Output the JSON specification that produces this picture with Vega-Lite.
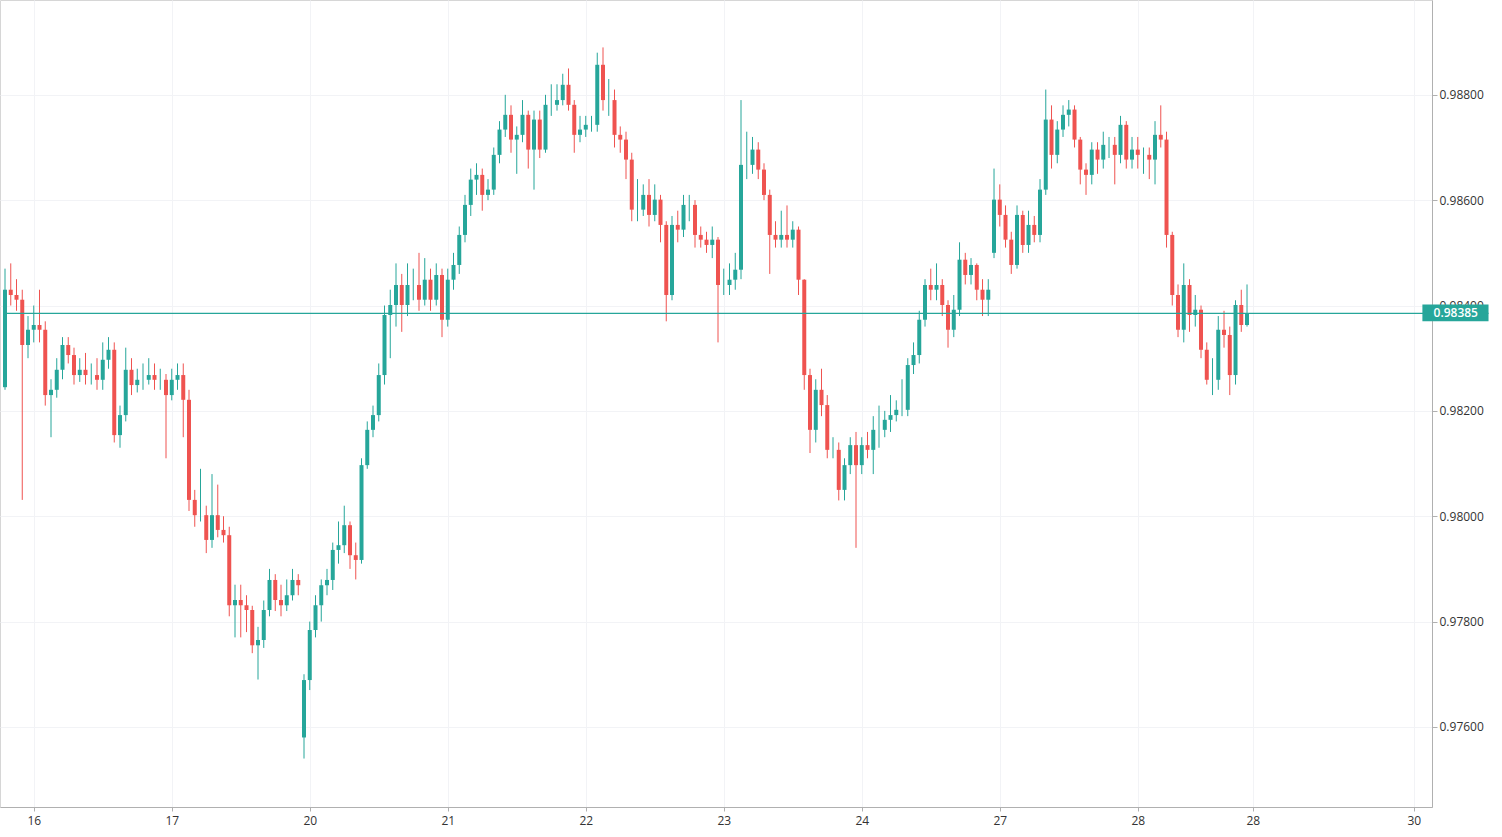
{
  "$schema": "https://vega.github.io/schema/vega-lite/v6.json",
  "width": 1432,
  "height": 807,
  "autosize": "none",
  "padding": {"left": 0, "top": 0, "right": 70, "bottom": 30},
  "background": "white",
  "config": {
    "view": {"stroke": "#d6d6d6"},
    "font": "Open Sans",
    "axis": {"labelFont": "Open Sans", "labelFontSize": 12, "labelColor": "#333", "gridColor": "#f2f3f6", "domainColor": "#b0b0b0", "tickColor": "#b0b0b0"}
  },
  "datasets": {
    "candles": [
      {"t":-5,"o":0.98245,"h":0.98470,"l":0.98240,"c":0.98430},
      {"t":-4,"o":0.98430,"h":0.98480,"l":0.98400,"c":0.98420},
      {"t":-3,"o":0.98420,"h":0.98450,"l":0.98390,"c":0.98411},
      {"t":-2,"o":0.98411,"h":0.98430,"l":0.98031,"c":0.98325},
      {"t":-1,"o":0.98325,"h":0.98380,"l":0.98300,"c":0.98354},
      {"t":0,"o":0.98354,"h":0.98400,"l":0.98330,"c":0.98363},
      {"t":1,"o":0.98363,"h":0.98430,"l":0.98330,"c":0.98354},
      {"t":2,"o":0.98354,"h":0.98370,"l":0.98210,"c":0.98230},
      {"t":3,"o":0.98230,"h":0.98260,"l":0.98150,"c":0.98240},
      {"t":4,"o":0.98240,"h":0.98300,"l":0.98225,"c":0.98278},
      {"t":5,"o":0.98278,"h":0.98340,"l":0.98260,"c":0.98325},
      {"t":6,"o":0.98325,"h":0.98340,"l":0.98290,"c":0.98306},
      {"t":7,"o":0.98306,"h":0.98320,"l":0.98250,"c":0.98268},
      {"t":8,"o":0.98268,"h":0.98300,"l":0.98255,"c":0.98278},
      {"t":9,"o":0.98278,"h":0.98310,"l":0.98250,"c":0.98268},
      {"t":10,"o":0.98268,"h":0.98290,"l":0.98250,"c":0.98268},
      {"t":11,"o":0.98268,"h":0.98300,"l":0.98240,"c":0.98259},
      {"t":12,"o":0.98259,"h":0.98330,"l":0.98240,"c":0.98297},
      {"t":13,"o":0.98297,"h":0.98340,"l":0.98280,"c":0.98316},
      {"t":14,"o":0.98316,"h":0.98330,"l":0.98140,"c":0.98154},
      {"t":15,"o":0.98154,"h":0.98210,"l":0.98130,"c":0.98192},
      {"t":16,"o":0.98192,"h":0.98320,"l":0.98180,"c":0.98278},
      {"t":17,"o":0.98278,"h":0.98300,"l":0.98230,"c":0.98249},
      {"t":18,"o":0.98249,"h":0.98280,"l":0.98235,"c":0.98259},
      {"t":19,"o":0.98259,"h":0.98290,"l":0.98240,"c":0.98259},
      {"t":20,"o":0.98259,"h":0.98300,"l":0.98250,"c":0.98268},
      {"t":21,"o":0.98268,"h":0.98290,"l":0.98240,"c":0.98259},
      {"t":22,"o":0.98259,"h":0.98280,"l":0.98240,"c":0.98259},
      {"t":23,"o":0.98259,"h":0.98270,"l":0.98110,"c":0.98230},
      {"t":24,"o":0.98230,"h":0.98280,"l":0.98220,"c":0.98259},
      {"t":25,"o":0.98259,"h":0.98290,"l":0.98240,"c":0.98268},
      {"t":26,"o":0.98268,"h":0.98290,"l":0.98150,"c":0.98221},
      {"t":27,"o":0.98221,"h":0.98240,"l":0.98010,"c":0.98031},
      {"t":28,"o":0.98031,"h":0.98050,"l":0.97980,"c":0.98002},
      {"t":29,"o":0.98002,"h":0.98090,"l":0.97990,"c":0.98002},
      {"t":30,"o":0.98002,"h":0.98020,"l":0.97930,"c":0.97955},
      {"t":31,"o":0.97955,"h":0.98080,"l":0.97940,"c":0.98002},
      {"t":32,"o":0.98002,"h":0.98060,"l":0.97960,"c":0.97974},
      {"t":33,"o":0.97974,"h":0.98000,"l":0.97950,"c":0.97964},
      {"t":34,"o":0.97964,"h":0.97980,"l":0.97810,"c":0.97831},
      {"t":35,"o":0.97831,"h":0.97870,"l":0.97770,"c":0.97841},
      {"t":36,"o":0.97841,"h":0.97870,"l":0.97770,"c":0.97831},
      {"t":37,"o":0.97831,"h":0.97850,"l":0.97780,"c":0.97822},
      {"t":38,"o":0.97822,"h":0.97830,"l":0.97740,"c":0.97755},
      {"t":39,"o":0.97755,"h":0.97790,"l":0.97690,"c":0.97765},
      {"t":40,"o":0.97765,"h":0.97840,"l":0.97750,"c":0.97822},
      {"t":41,"o":0.97822,"h":0.97900,"l":0.97810,"c":0.97879},
      {"t":42,"o":0.97879,"h":0.97890,"l":0.97820,"c":0.97841},
      {"t":43,"o":0.97841,"h":0.97870,"l":0.97810,"c":0.97831},
      {"t":44,"o":0.97831,"h":0.97880,"l":0.97820,"c":0.97850},
      {"t":45,"o":0.97850,"h":0.97900,"l":0.97840,"c":0.97879},
      {"t":46,"o":0.97879,"h":0.97890,"l":0.97850,"c":0.97869},
      {"t":47,"o":0.97580,"h":0.97700,"l":0.97540,"c":0.97689},
      {"t":48,"o":0.97689,"h":0.97800,"l":0.97670,"c":0.97784},
      {"t":49,"o":0.97784,"h":0.97850,"l":0.97770,"c":0.97831},
      {"t":50,"o":0.97831,"h":0.97880,"l":0.97800,"c":0.97869},
      {"t":51,"o":0.97869,"h":0.97900,"l":0.97850,"c":0.97879},
      {"t":52,"o":0.97879,"h":0.97950,"l":0.97860,"c":0.97936},
      {"t":53,"o":0.97936,"h":0.97990,"l":0.97910,"c":0.97945},
      {"t":54,"o":0.97945,"h":0.98020,"l":0.97930,"c":0.97983},
      {"t":55,"o":0.97983,"h":0.97990,"l":0.97900,"c":0.97926},
      {"t":56,"o":0.97926,"h":0.97950,"l":0.97880,"c":0.97917},
      {"t":57,"o":0.97917,"h":0.98110,"l":0.97910,"c":0.98097},
      {"t":58,"o":0.98097,"h":0.98180,"l":0.98090,"c":0.98164},
      {"t":59,"o":0.98164,"h":0.98210,"l":0.98150,"c":0.98192},
      {"t":60,"o":0.98192,"h":0.98290,"l":0.98180,"c":0.98268},
      {"t":61,"o":0.98268,"h":0.98400,"l":0.98250,"c":0.98382},
      {"t":62,"o":0.98382,"h":0.98430,"l":0.98300,"c":0.98401},
      {"t":63,"o":0.98401,"h":0.98480,"l":0.98360,"c":0.98439},
      {"t":64,"o":0.98439,"h":0.98460,"l":0.98350,"c":0.98401},
      {"t":65,"o":0.98401,"h":0.98480,"l":0.98380,"c":0.98439},
      {"t":66,"o":0.98439,"h":0.98470,"l":0.98410,"c":0.98439},
      {"t":67,"o":0.98439,"h":0.98500,"l":0.98390,"c":0.98411},
      {"t":68,"o":0.98411,"h":0.98490,"l":0.98400,"c":0.98449},
      {"t":69,"o":0.98449,"h":0.98470,"l":0.98390,"c":0.98411},
      {"t":70,"o":0.98411,"h":0.98480,"l":0.98400,"c":0.98458},
      {"t":71,"o":0.98458,"h":0.98470,"l":0.98340,"c":0.98373},
      {"t":72,"o":0.98373,"h":0.98470,"l":0.98360,"c":0.98449},
      {"t":73,"o":0.98449,"h":0.98500,"l":0.98430,"c":0.98477},
      {"t":74,"o":0.98477,"h":0.98550,"l":0.98460,"c":0.98534},
      {"t":75,"o":0.98534,"h":0.98610,"l":0.98520,"c":0.98591},
      {"t":76,"o":0.98591,"h":0.98660,"l":0.98570,"c":0.98639},
      {"t":77,"o":0.98639,"h":0.98670,"l":0.98610,"c":0.98648},
      {"t":78,"o":0.98648,"h":0.98660,"l":0.98580,"c":0.98610},
      {"t":79,"o":0.98610,"h":0.98640,"l":0.98600,"c":0.98620},
      {"t":80,"o":0.98620,"h":0.98700,"l":0.98610,"c":0.98686},
      {"t":81,"o":0.98686,"h":0.98750,"l":0.98670,"c":0.98734},
      {"t":82,"o":0.98734,"h":0.98800,"l":0.98720,"c":0.98762},
      {"t":83,"o":0.98762,"h":0.98780,"l":0.98690,"c":0.98715},
      {"t":84,"o":0.98715,"h":0.98740,"l":0.98650,"c":0.98724},
      {"t":85,"o":0.98724,"h":0.98790,"l":0.98710,"c":0.98762},
      {"t":86,"o":0.98762,"h":0.98770,"l":0.98660,"c":0.98696},
      {"t":87,"o":0.98696,"h":0.98770,"l":0.98620,"c":0.98753},
      {"t":88,"o":0.98753,"h":0.98770,"l":0.98680,"c":0.98696},
      {"t":89,"o":0.98696,"h":0.98800,"l":0.98690,"c":0.98781},
      {"t":90,"o":0.98781,"h":0.98820,"l":0.98760,"c":0.98781},
      {"t":91,"o":0.98781,"h":0.98820,"l":0.98770,"c":0.98790},
      {"t":92,"o":0.98790,"h":0.98840,"l":0.98780,"c":0.98819},
      {"t":93,"o":0.98819,"h":0.98850,"l":0.98770,"c":0.98781},
      {"t":94,"o":0.98781,"h":0.98790,"l":0.98690,"c":0.98724},
      {"t":95,"o":0.98724,"h":0.98760,"l":0.98710,"c":0.98734},
      {"t":96,"o":0.98734,"h":0.98760,"l":0.98720,"c":0.98743},
      {"t":97,"o":0.98743,"h":0.98760,"l":0.98730,"c":0.98743},
      {"t":98,"o":0.98743,"h":0.98880,"l":0.98730,"c":0.98857},
      {"t":99,"o":0.98857,"h":0.98890,"l":0.98770,"c":0.98790},
      {"t":100,"o":0.98790,"h":0.98830,"l":0.98760,"c":0.98790},
      {"t":101,"o":0.98790,"h":0.98810,"l":0.98700,"c":0.98724},
      {"t":102,"o":0.98724,"h":0.98740,"l":0.98690,"c":0.98715},
      {"t":103,"o":0.98715,"h":0.98730,"l":0.98640,"c":0.98677},
      {"t":104,"o":0.98677,"h":0.98690,"l":0.98560,"c":0.98582},
      {"t":105,"o":0.98582,"h":0.98640,"l":0.98560,"c":0.98582},
      {"t":106,"o":0.98582,"h":0.98630,"l":0.98570,"c":0.98610},
      {"t":107,"o":0.98610,"h":0.98640,"l":0.98550,"c":0.98572},
      {"t":108,"o":0.98572,"h":0.98630,"l":0.98560,"c":0.98601},
      {"t":109,"o":0.98601,"h":0.98610,"l":0.98520,"c":0.98553},
      {"t":110,"o":0.98553,"h":0.98560,"l":0.98370,"c":0.98420},
      {"t":111,"o":0.98420,"h":0.98570,"l":0.98410,"c":0.98553},
      {"t":112,"o":0.98553,"h":0.98580,"l":0.98520,"c":0.98544},
      {"t":113,"o":0.98544,"h":0.98610,"l":0.98530,"c":0.98591},
      {"t":114,"o":0.98591,"h":0.98610,"l":0.98560,"c":0.98591},
      {"t":115,"o":0.98591,"h":0.98600,"l":0.98510,"c":0.98534},
      {"t":116,"o":0.98534,"h":0.98550,"l":0.98510,"c":0.98525},
      {"t":117,"o":0.98525,"h":0.98540,"l":0.98500,"c":0.98515},
      {"t":118,"o":0.98515,"h":0.98550,"l":0.98490,"c":0.98525},
      {"t":119,"o":0.98525,"h":0.98530,"l":0.98330,"c":0.98439},
      {"t":120,"o":0.98439,"h":0.98470,"l":0.98420,"c":0.98439},
      {"t":121,"o":0.98439,"h":0.98480,"l":0.98420,"c":0.98449},
      {"t":122,"o":0.98449,"h":0.98500,"l":0.98430,"c":0.98468},
      {"t":123,"o":0.98468,"h":0.98790,"l":0.98450,"c":0.98667},
      {"t":124,"o":0.98667,"h":0.98730,"l":0.98640,"c":0.98667},
      {"t":125,"o":0.98667,"h":0.98720,"l":0.98650,"c":0.98696},
      {"t":126,"o":0.98696,"h":0.98710,"l":0.98640,"c":0.98658},
      {"t":127,"o":0.98658,"h":0.98670,"l":0.98600,"c":0.98610},
      {"t":128,"o":0.98610,"h":0.98620,"l":0.98460,"c":0.98534},
      {"t":129,"o":0.98534,"h":0.98560,"l":0.98510,"c":0.98525},
      {"t":130,"o":0.98525,"h":0.98580,"l":0.98510,"c":0.98534},
      {"t":131,"o":0.98534,"h":0.98590,"l":0.98510,"c":0.98525},
      {"t":132,"o":0.98525,"h":0.98560,"l":0.98510,"c":0.98544},
      {"t":133,"o":0.98544,"h":0.98550,"l":0.98420,"c":0.98449},
      {"t":134,"o":0.98449,"h":0.98450,"l":0.98240,"c":0.98268},
      {"t":135,"o":0.98268,"h":0.98280,"l":0.98120,"c":0.98164},
      {"t":136,"o":0.98164,"h":0.98260,"l":0.98140,"c":0.98240},
      {"t":137,"o":0.98240,"h":0.98280,"l":0.98190,"c":0.98211},
      {"t":138,"o":0.98211,"h":0.98230,"l":0.98110,"c":0.98126},
      {"t":139,"o":0.98126,"h":0.98150,"l":0.98110,"c":0.98126},
      {"t":140,"o":0.98126,"h":0.98140,"l":0.98030,"c":0.98050},
      {"t":141,"o":0.98050,"h":0.98110,"l":0.98030,"c":0.98097},
      {"t":142,"o":0.98097,"h":0.98150,"l":0.98080,"c":0.98135},
      {"t":143,"o":0.98135,"h":0.98160,"l":0.97940,"c":0.98097},
      {"t":144,"o":0.98097,"h":0.98150,"l":0.98080,"c":0.98135},
      {"t":145,"o":0.98135,"h":0.98160,"l":0.98110,"c":0.98126},
      {"t":146,"o":0.98126,"h":0.98190,"l":0.98080,"c":0.98164},
      {"t":147,"o":0.98164,"h":0.98210,"l":0.98130,"c":0.98164},
      {"t":148,"o":0.98164,"h":0.98200,"l":0.98150,"c":0.98183},
      {"t":149,"o":0.98183,"h":0.98230,"l":0.98160,"c":0.98192},
      {"t":150,"o":0.98192,"h":0.98220,"l":0.98180,"c":0.98202},
      {"t":151,"o":0.98202,"h":0.98260,"l":0.98190,"c":0.98202},
      {"t":152,"o":0.98202,"h":0.98300,"l":0.98190,"c":0.98287},
      {"t":153,"o":0.98287,"h":0.98330,"l":0.98270,"c":0.98306},
      {"t":154,"o":0.98306,"h":0.98390,"l":0.98290,"c":0.98373},
      {"t":155,"o":0.98373,"h":0.98450,"l":0.98360,"c":0.98439},
      {"t":156,"o":0.98439,"h":0.98470,"l":0.98410,"c":0.98430},
      {"t":157,"o":0.98430,"h":0.98480,"l":0.98410,"c":0.98439},
      {"t":158,"o":0.98439,"h":0.98450,"l":0.98380,"c":0.98401},
      {"t":159,"o":0.98401,"h":0.98410,"l":0.98320,"c":0.98354},
      {"t":160,"o":0.98354,"h":0.98420,"l":0.98340,"c":0.98392},
      {"t":161,"o":0.98392,"h":0.98520,"l":0.98380,"c":0.98487},
      {"t":162,"o":0.98487,"h":0.98500,"l":0.98440,"c":0.98458},
      {"t":163,"o":0.98458,"h":0.98490,"l":0.98440,"c":0.98477},
      {"t":164,"o":0.98477,"h":0.98480,"l":0.98410,"c":0.98430},
      {"t":165,"o":0.98430,"h":0.98450,"l":0.98380,"c":0.98411},
      {"t":166,"o":0.98411,"h":0.98450,"l":0.98380,"c":0.98430},
      {"t":167,"o":0.98500,"h":0.98660,"l":0.98490,"c":0.98601},
      {"t":168,"o":0.98601,"h":0.98630,"l":0.98550,"c":0.98572},
      {"t":169,"o":0.98572,"h":0.98590,"l":0.98510,"c":0.98525},
      {"t":170,"o":0.98525,"h":0.98540,"l":0.98460,"c":0.98477},
      {"t":171,"o":0.98477,"h":0.98590,"l":0.98470,"c":0.98572},
      {"t":172,"o":0.98572,"h":0.98580,"l":0.98500,"c":0.98515},
      {"t":173,"o":0.98515,"h":0.98580,"l":0.98500,"c":0.98553},
      {"t":174,"o":0.98553,"h":0.98570,"l":0.98520,"c":0.98534},
      {"t":175,"o":0.98534,"h":0.98640,"l":0.98520,"c":0.98620},
      {"t":176,"o":0.98620,"h":0.98810,"l":0.98610,"c":0.98753},
      {"t":177,"o":0.98753,"h":0.98780,"l":0.98660,"c":0.98686},
      {"t":178,"o":0.98686,"h":0.98750,"l":0.98670,"c":0.98734},
      {"t":179,"o":0.98734,"h":0.98780,"l":0.98720,"c":0.98762},
      {"t":180,"o":0.98762,"h":0.98790,"l":0.98740,"c":0.98772},
      {"t":181,"o":0.98772,"h":0.98780,"l":0.98700,"c":0.98715},
      {"t":182,"o":0.98715,"h":0.98720,"l":0.98630,"c":0.98658},
      {"t":183,"o":0.98658,"h":0.98670,"l":0.98610,"c":0.98648},
      {"t":184,"o":0.98648,"h":0.98710,"l":0.98630,"c":0.98696},
      {"t":185,"o":0.98696,"h":0.98710,"l":0.98650,"c":0.98677},
      {"t":186,"o":0.98677,"h":0.98730,"l":0.98660,"c":0.98705},
      {"t":187,"o":0.98705,"h":0.98720,"l":0.98680,"c":0.98705},
      {"t":188,"o":0.98705,"h":0.98720,"l":0.98630,"c":0.98686},
      {"t":189,"o":0.98686,"h":0.98760,"l":0.98670,"c":0.98743},
      {"t":190,"o":0.98743,"h":0.98750,"l":0.98660,"c":0.98677},
      {"t":191,"o":0.98677,"h":0.98720,"l":0.98660,"c":0.98696},
      {"t":192,"o":0.98696,"h":0.98720,"l":0.98660,"c":0.98686},
      {"t":193,"o":0.98686,"h":0.98700,"l":0.98650,"c":0.98686},
      {"t":194,"o":0.98686,"h":0.98700,"l":0.98640,"c":0.98677},
      {"t":195,"o":0.98677,"h":0.98750,"l":0.98630,"c":0.98724},
      {"t":196,"o":0.98724,"h":0.98780,"l":0.98700,"c":0.98715},
      {"t":197,"o":0.98715,"h":0.98730,"l":0.98510,"c":0.98534},
      {"t":198,"o":0.98534,"h":0.98540,"l":0.98400,"c":0.98420},
      {"t":199,"o":0.98420,"h":0.98440,"l":0.98340,"c":0.98354},
      {"t":200,"o":0.98354,"h":0.98480,"l":0.98330,"c":0.98439},
      {"t":201,"o":0.98439,"h":0.98450,"l":0.98350,"c":0.98382},
      {"t":202,"o":0.98382,"h":0.98420,"l":0.98360,"c":0.98392},
      {"t":203,"o":0.98392,"h":0.98400,"l":0.98300,"c":0.98316},
      {"t":204,"o":0.98316,"h":0.98330,"l":0.98250,"c":0.98259},
      {"t":205,"o":0.98259,"h":0.98300,"l":0.98230,"c":0.98259},
      {"t":206,"o":0.98259,"h":0.98380,"l":0.98240,"c":0.98354},
      {"t":207,"o":0.98354,"h":0.98390,"l":0.98320,"c":0.98344},
      {"t":208,"o":0.98344,"h":0.98360,"l":0.98230,"c":0.98268},
      {"t":209,"o":0.98268,"h":0.98410,"l":0.98250,"c":0.98401},
      {"t":210,"o":0.98401,"h":0.98430,"l":0.98350,"c":0.98363},
      {"t":211,"o":0.98363,"h":0.98440,"l":0.98360,"c":0.98385}
    ],
    "last": [{"t": -5, "t2": 253, "p": 0.98385, "lo": 0.98370, "hi": 0.98402, "tx": 247.3, "bx": 241.5, "lbl": "0.98385"}]
  },
  "layer": [
    {
      "data": {"name": "candles"},
      "mark": {"type": "rule", "strokeWidth": 1},
      "encoding": {
        "x": {
          "field": "t",
          "type": "quantitative",
          "scale": {"domain": [-5, 242.3], "nice": false, "zero": false},
          "axis": {
            "title": null,
            "values": [0, 24, 48, 72, 96, 120, 144, 168, 192, 212, 240],
            "labelExpr": "datum.value == 0 ? '16' : datum.value == 24 ? '17' : datum.value == 48 ? '20' : datum.value == 72 ? '21' : datum.value == 96 ? '22' : datum.value == 120 ? '23' : datum.value == 144 ? '24' : datum.value == 168 ? '27' : datum.value == 192 ? '28' : datum.value == 212 ? '28' : '30'",
            "grid": true,
            "tickSize": 4,
            "labelPadding": 4
          }
        },
        "y": {
          "field": "l",
          "type": "quantitative",
          "scale": {"domain": [0.97448, 0.9898], "nice": false, "zero": false},
          "axis": {
            "orient": "right",
            "title": null,
            "values": [0.976, 0.978, 0.98, 0.982, 0.984, 0.986, 0.988],
            "format": ".5f",
            "grid": true,
            "tickSize": 5
          }
        },
        "y2": {"field": "h"},
        "color": {"condition": {"test": "datum.c >= datum.o", "value": "#26a69a"}, "value": "#ef5350"}
      }
    },
    {
      "data": {"name": "candles"},
      "mark": {"type": "bar", "width": 4},
      "encoding": {
        "x": {"field": "t", "type": "quantitative"},
        "y": {"field": "o", "type": "quantitative"},
        "y2": {"field": "c"},
        "color": {"condition": {"test": "datum.c >= datum.o", "value": "#26a69a"}, "value": "#ef5350"}
      }
    },
    {
      "data": {"name": "last"},
      "mark": {"type": "rule", "color": "#26a69a", "strokeWidth": 1.2},
      "encoding": {
        "x": {"field": "t", "type": "quantitative"},
        "x2": {"field": "t2"},
        "y": {"field": "p", "type": "quantitative"}
      }
    },
    {
      "data": {"name": "last"},
      "mark": {"type": "rect", "color": "#26a69a"},
      "encoding": {
        "x": {"field": "bx", "type": "quantitative"},
        "x2": {"field": "t2"},
        "y": {"field": "lo", "type": "quantitative"},
        "y2": {"field": "hi"}
      }
    },
    {
      "data": {"name": "last"},
      "mark": {"type": "text", "fontSize": 12, "font": "Open Sans", "fontWeight": 600, "color": "white"},
      "encoding": {
        "x": {"field": "tx", "type": "quantitative"},
        "y": {"field": "p", "type": "quantitative"},
        "text": {"field": "lbl"}
      }
    }
  ]
}
